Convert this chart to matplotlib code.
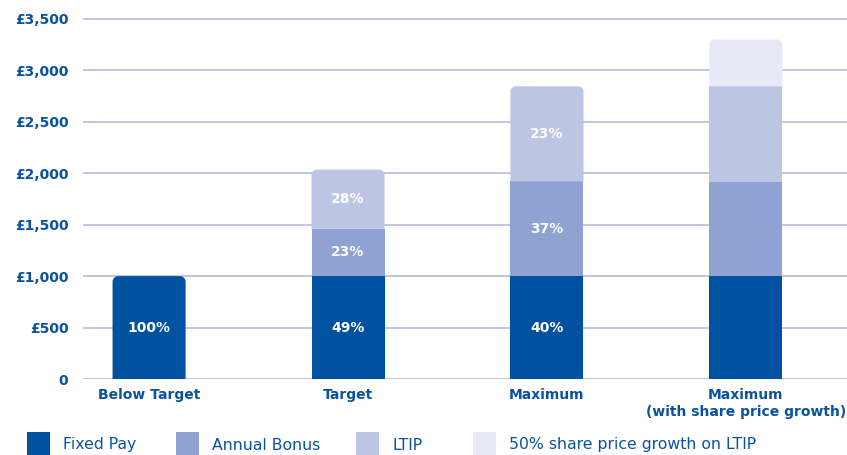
import matplotlib
matplotlib.use("Agg")
import matplotlib.pyplot as plt
from matplotlib.patches import PathPatch, Rectangle
from matplotlib.path import Path

categories = ["Below Target", "Target", "Maximum", "Maximum\n(with share price growth)"]
series_names = ["Fixed Pay", "Annual Bonus", "LTIP", "50% share price growth on LTIP"]
fixed_pay = [1000, 1000, 1000, 1000]
annual_bonus = [0, 460, 920, 915]
ltip = [0, 575, 925, 930]
share_growth = [0, 0, 0, 455]
segment_labels = [
    ["100%", "", "", ""],
    ["49%", "23%", "28%", ""],
    ["40%", "37%", "23%", ""],
    ["", "", "", ""],
]
y_ticks = [0, 500, 1000, 1500, 2000, 2500, 3000, 3500]
y_tick_labels = ["0", "£500", "£1,000", "£1,500", "£2,000", "£2,500", "£3,000", "£3,500"]

colors = ["#0051A0", "#8FA2D2", "#BCC5E4", "#E7EAF6"]
text_blue = "#0A52A0"
grid_color = "#BAC2E2"

W, H = 847, 455
fig = plt.figure(figsize=(W / 100, H / 100), dpi=100)
ax = fig.add_axes([0.098, 0.167, 0.902, 0.814])

x = list(range(len(categories)))
width = 0.367
series = [fixed_pay, annual_bonus, ltip, share_growth]
bottoms = [0] * len(categories)
containers = []
for vals, col in zip(series, colors):
    bc = ax.bar(x, vals, width, bottom=bottoms, color=col, linewidth=0, zorder=2)
    containers.append(bc)
    bottoms = [b + v for b, v in zip(bottoms, vals)]

ax.set_xlim(-0.332, 3.508)
ax.set_ylim(0, 3600)

# round the top corners of the uppermost segment of each stack
fig.canvas.draw()
px_per_x = ax.transData.transform((1, 0))[0] - ax.transData.transform((0, 0))[0]
px_per_y = ax.transData.transform((0, 1000))[1] - ax.transData.transform((0, 0))[1]
r_px = 5.5
rx = r_px / px_per_x
ry = r_px / px_per_y * 1000
k = 0.5523
for i in x:
    top_rect = None
    for bc in containers:
        rect = bc.patches[i]
        if rect.get_height() > 0:
            top_rect = rect
    x0 = top_rect.get_x()
    y0 = top_rect.get_y()
    w = top_rect.get_width()
    h = top_rect.get_height()
    x1, y1 = x0 + w, y0 + h
    verts = [
        (x0, y0), (x1, y0), (x1, y1 - ry),
        (x1, y1 - ry + k * ry), (x1 - rx + k * rx, y1), (x1 - rx, y1),
        (x0 + rx, y1),
        (x0 + rx - k * rx, y1), (x0, y1 - ry + k * ry), (x0, y1 - ry),
        (x0, y0),
    ]
    codes = [Path.MOVETO, Path.LINETO, Path.LINETO,
             Path.CURVE4, Path.CURVE4, Path.CURVE4,
             Path.LINETO,
             Path.CURVE4, Path.CURVE4, Path.CURVE4,
             Path.CLOSEPOLY]
    patch = PathPatch(Path(verts, codes), facecolor=top_rect.get_facecolor(),
                      linewidth=0, zorder=2)
    top_rect.set_visible(False)
    ax.add_patch(patch)

# percentage labels inside segments
for j, bc in enumerate(containers):
    for i, rect in enumerate(bc.patches):
        lab = segment_labels[i][j]
        if lab:
            ax.text(rect.get_x() + rect.get_width() / 2,
                    rect.get_y() + rect.get_height() / 2, lab,
                    ha="center", va="center", color="white",
                    fontsize=10, fontweight="bold", zorder=3)

ax.set_yticks(y_ticks)
ax.set_yticklabels(y_tick_labels)
ax.set_xticks(x)
ax.set_xticklabels(categories)
ax.tick_params(axis="y", length=0, pad=10.5, labelsize=10, labelcolor=text_blue)
ax.tick_params(axis="x", length=0, pad=6.5, labelsize=10, labelcolor=text_blue)
for lab in ax.get_yticklabels() + ax.get_xticklabels():
    lab.set_fontweight("bold")
for lab in ax.get_xticklabels():
    lab.set_linespacing(1.3)

ax.yaxis.grid(True, color=grid_color, linewidth=1.3)
ax.set_axisbelow(True)
for s in ax.spines.values():
    s.set_visible(False)

# legend row: swatch + label, laid out in pixel positions
swatch_x = [27, 176, 356, 473]
text_gap = 13
sw = 23
sy = 0
for sx, col, name in zip(swatch_x, colors, series_names):
    fig.add_artist(Rectangle((sx / W, sy / H), sw / W, sw / H,
                             transform=fig.transFigure, facecolor=col,
                             edgecolor="none"))
    fig.text((sx + sw + text_gap) / W, 10 / H, name,
             ha="left", va="center", fontsize=11.3, color=text_blue)

fig.savefig("out.png", dpi=100)
